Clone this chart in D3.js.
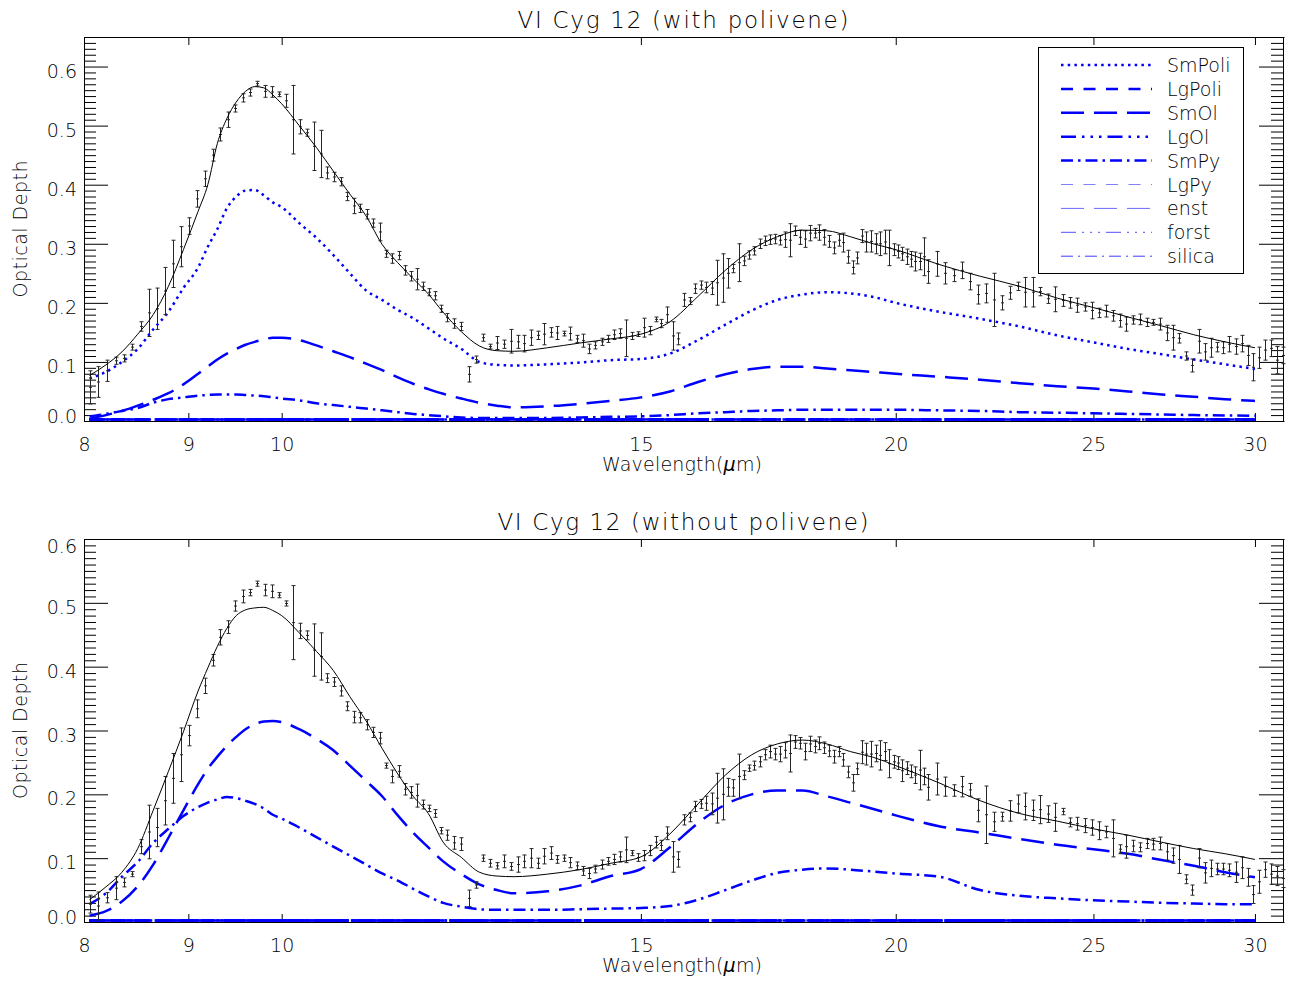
<!DOCTYPE html>
<html><head><meta charset="utf-8">
<script src="https://cdn.jsdelivr.net/npm/d3@7"></script>
<style>
body{margin:0;background:#fff}
svg{display:block;background:#fff}
text{font-family:"DejaVu Sans","Liberation Sans",sans-serif;font-weight:200;fill:#000}
</style>
</head><body>
<svg id="c" width="1292" height="983"></svg>
<script>
// ---------------- DATA ----------------
const wl = [8.05,8.13,8.21,8.29,8.37,8.45,8.53,8.61,8.69,8.77,
8.85,8.93,9.01,9.09,9.17,9.25,9.33,9.41,9.49,9.57,
9.65,9.73,9.81,9.89,9.97,10.05,10.13,10.21,10.29,10.37,
10.45,10.53,10.61,10.69,10.77,10.85,10.93,11.01,11.09,11.17,
11.25,11.33,11.41,11.49,11.57,11.65,11.73,11.81,11.89,11.97,
12.05,
12.15,12.25,12.35,12.45,12.55,12.65,12.75,12.85,12.95,13.05,
13.15,13.25,13.35,13.45,13.55,13.65,13.75,13.85,13.95,14.05,
14.15,14.25,14.35,14.45,14.55,14.65,14.75,14.85,14.95,15.05,
15.15,15.25,15.35,15.45,15.55,15.65,15.75,15.85,15.95,16.05,
16.15,16.25,16.35,16.45,16.55,16.65,16.75,16.85,16.95,17.05,
17.15,17.25,17.35,17.45,17.55,17.65,17.75,17.85,17.95,18.05,
18.15,18.25,18.35,18.45,18.55,18.65,18.75,18.85,18.95,19.05,
19.15,19.25,19.35,19.45,19.55,19.65,19.75,19.85,19.95,20.05,
20.15,20.25,20.35,20.45,20.55,20.65,20.75,
20.95,21.15,21.35,21.55,21.75,21.95,22.15,22.35,22.55,22.75,
22.95,23.15,23.35,23.55,23.75,23.95,24.15,24.35,24.55,24.75,
24.95,25.15,25.35,25.55,25.75,25.95,26.15,26.35,26.55,26.75,
26.95,27.15,27.35,27.55,27.75,27.95,28.15,28.35,28.55,28.75,
28.95,29.15,29.35,29.55,29.75,29.95,30.15,30.35,30.55,30.75,
30.95];

// observed optical depth, panel 1 (with polivene)
const topVal = [0.057,0.066,0.085,0.102,0.106,0.125,0.16,0.183,0.19,0.22,
0.266,0.295,0.33,0.376,0.41,0.45,0.485,0.51,0.529,0.547,
0.556,0.571,0.558,0.557,0.553,0.542,0.51,0.498,0.488,0.465,
0.452,0.42,0.413,0.405,0.38,0.364,0.36,0.35,0.335,0.32,
0.283,0.275,0.28,0.255,0.245,0.24,0.228,0.218,0.212,0.19,
0.175,
0.165,0.16,0.079,0.104,0.141,0.126,0.132,0.13,0.135,0.134,
0.131,0.141,0.145,0.147,0.15,0.149,0.148,0.148,0.139,0.136,
0.122,0.128,0.134,0.139,0.146,0.148,0.14,0.144,0.147,0.158,
0.153,0.172,0.165,0.18,0.144,0.139,0.205,0.203,0.224,0.23,
0.226,0.225,0.234,0.242,0.25,0.258,0.268,0.271,0.281,0.288,
0.3,0.305,0.307,0.308,0.306,0.307,0.306,0.322,0.311,0.308,
0.318,0.318,0.319,0.311,0.304,0.293,0.306,0.302,0.278,0.26,
0.276,0.313,0.303,0.304,0.3,0.3,0.303,0.293,0.29,0.287,
0.283,0.278,0.274,0.27,0.27,0.278,0.253,
0.266,0.25,0.246,0.255,0.236,0.214,0.216,0.205,0.2,0.217,
0.228,0.218,0.218,0.219,0.207,0.206,0.204,0.2,0.196,0.193,
0.187,0.183,0.186,0.178,0.17,0.164,0.171,0.172,0.167,0.167,
0.164,0.149,0.141,0.14,0.11,0.094,0.135,0.117,0.124,0.125,
0.124,0.13,0.126,0.131,0.111,0.091,0.107,0.12,0.123,0.103,
0.111];
const topErr = [0.028,0.026,0.018,0.006,0.006,0.005,0.008,0.04,0.035,0.04,
0.04,0.034,0.014,0.014,0.013,0.01,0.011,0.013,0.006,0.007,
0.006,0.004,0.01,0.009,0.004,0.011,0.058,0.012,0.006,0.041,
0.04,0.01,0.008,0.007,0.007,0.013,0.007,0.008,0.007,0.015,
0.006,0.008,0.007,0.008,0.008,0.018,0.007,0.006,0.007,0.006,
0.007,
0.008,0.007,0.013,0.006,0.006,0.004,0.011,0.007,0.02,0.011,
0.014,0.013,0.007,0.018,0.008,0.011,0.004,0.011,0.006,0.011,
0.008,0.006,0.006,0.006,0.008,0.008,0.031,0.006,0.004,0.016,
0.007,0.004,0.007,0.013,0.024,0.01,0.011,0.006,0.008,0.007,
0.009,0.011,0.038,0.041,0.025,0.007,0.032,0.008,0.007,0.007,
0.008,0.008,0.008,0.008,0.008,0.013,0.028,0.008,0.012,0.014,
0.013,0.008,0.013,0.013,0.01,0.01,0.01,0.016,0.011,0.011,
0.01,0.011,0.017,0.018,0.017,0.02,0.02,0.03,0.01,0.011,
0.011,0.013,0.013,0.016,0.014,0.032,0.02,
0.021,0.018,0.01,0.014,0.014,0.016,0.016,0.045,0.012,0.011,
0.007,0.025,0.025,0.007,0.008,0.021,0.01,0.009,0.012,0.007,
0.014,0.008,0.01,0.009,0.011,0.012,0.007,0.009,0.007,0.005,
0.01,0.013,0.021,0.008,0.007,0.011,0.02,0.014,0.016,0.008,
0.01,0.013,0.013,0.014,0.017,0.023,0.018,0.017,0.014,0.023,
0.014];

// observed optical depth, panel 2 (without polivene)
const botVal = [0.028,0.025,0.038,0.053,0.062,0.075,0.118,0.141,0.148,0.19,
0.225,0.262,0.292,0.334,0.37,0.41,0.446,0.462,0.495,0.51,
0.516,0.53,0.52,0.518,0.512,0.499,0.469,0.456,0.449,0.426,
0.416,0.382,0.376,0.362,0.338,0.321,0.32,0.309,0.297,0.288,
0.245,0.228,0.236,0.208,0.203,0.198,0.184,0.178,0.17,0.143,
0.136,
0.124,0.122,0.037,0.058,0.1,0.092,0.088,0.095,0.087,0.09,
0.095,0.1,0.092,0.103,0.108,0.098,0.1,0.093,0.088,0.08,
0.076,0.083,0.09,0.095,0.098,0.102,0.113,0.108,0.101,0.104,
0.112,0.125,0.12,0.139,0.102,0.098,0.16,0.164,0.181,0.185,
0.186,0.185,0.194,0.2,0.211,0.21,0.228,0.23,0.241,0.245,
0.251,0.262,0.267,0.263,0.263,0.269,0.264,0.282,0.28,0.267,
0.279,0.275,0.28,0.273,0.268,0.259,0.267,0.254,0.235,0.218,
0.24,0.266,0.263,0.263,0.264,0.261,0.267,0.248,0.251,0.249,
0.237,0.241,0.236,0.23,0.238,0.228,0.211,
0.224,0.212,0.206,0.212,0.207,0.175,0.168,0.157,0.165,0.174,
0.185,0.181,0.175,0.176,0.169,0.164,0.173,0.156,0.154,0.151,
0.148,0.143,0.141,0.131,0.114,0.118,0.119,0.117,0.123,0.122,
0.123,0.11,0.104,0.098,0.067,0.05,0.1,0.077,0.084,0.083,
0.083,0.081,0.078,0.085,0.07,0.043,0.063,0.082,0.075,0.072,
0.068];
const botErr = [0.014,0.022,0.008,0.018,0.007,0.004,0.011,0.042,0.03,0.038,
0.039,0.042,0.016,0.014,0.012,0.009,0.012,0.01,0.008,0.01,
0.005,0.004,0.009,0.01,0.004,0.004,0.058,0.012,0.007,0.041,
0.037,0.007,0.007,0.008,0.007,0.009,0.008,0.008,0.008,0.009,
0.004,0.01,0.009,0.009,0.009,0.018,0.007,0.005,0.006,0.005,
0.008,
0.01,0.01,0.013,0.005,0.005,0.006,0.005,0.01,0.006,0.012,
0.01,0.015,0.008,0.012,0.01,0.006,0.005,0.008,0.006,0.007,
0.008,0.006,0.007,0.006,0.008,0.008,0.02,0.004,0.006,0.008,
0.008,0.009,0.008,0.01,0.024,0.012,0.008,0.007,0.008,0.007,
0.011,0.017,0.039,0.04,0.014,0.013,0.035,0.007,0.005,0.007,
0.008,0.008,0.01,0.009,0.012,0.012,0.029,0.01,0.009,0.013,
0.012,0.01,0.01,0.009,0.009,0.01,0.008,0.01,0.009,0.013,
0.009,0.018,0.017,0.02,0.013,0.023,0.014,0.022,0.01,0.01,
0.017,0.01,0.01,0.013,0.031,0.013,0.02,
0.025,0.015,0.009,0.016,0.01,0.018,0.045,0.015,0.007,0.016,
0.014,0.021,0.016,0.022,0.013,0.022,0.005,0.007,0.01,0.011,
0.012,0.014,0.009,0.029,0.007,0.018,0.009,0.007,0.008,0.009,
0.01,0.013,0.012,0.022,0.007,0.008,0.015,0.016,0.013,0.009,
0.009,0.01,0.016,0.017,0.014,0.014,0.018,0.012,0.016,0.015,
0.014];

// model wavelength grid
const modelWl = [8.05,8.2,8.35,8.5,8.65,8.8,8.95,9.1,9.2,9.3,
9.4,9.5,9.6,9.7,9.8,9.9,10.0,10.2,10.4,10.6,
10.8,11.0,11.2,11.4,11.6,11.8,12.0,12.25,12.5,12.75,
13.0,13.5,14.0,14.5,15.0,15.5,16.0,16.5,17.0,17.5,
18.0,18.5,19.0,19.5,20.0,21.0,22.0,23.0,24.0,25.0,
26.0,27.0,28.0,29.0,30.0];

const topTotal = [0.077,0.095,0.117,0.147,0.18,0.228,0.29,0.355,0.4,0.47,
0.512,0.54,0.558,0.566,0.564,0.552,0.537,0.5,0.463,0.423,
0.384,0.347,0.299,0.268,0.241,0.215,0.184,0.151,0.127,0.119,
0.118,0.124,0.132,0.139,0.147,0.168,0.211,0.255,0.29,0.312,
0.323,0.322,0.312,0.3,0.29,0.265,0.245,0.228,0.208,0.192,
0.176,0.161,0.146,0.134,0.124];
const topSmPoli = [0.072,0.083,0.1,0.122,0.155,0.185,0.225,0.26,0.295,0.325,
0.36,0.38,0.39,0.391,0.382,0.37,0.362,0.335,0.31,0.281,
0.25,0.221,0.205,0.188,0.174,0.157,0.14,0.122,0.1,0.095,
0.094,0.096,0.099,0.103,0.105,0.114,0.137,0.163,0.187,0.205,
0.214,0.218,0.216,0.21,0.2,0.185,0.173,0.16,0.145,0.133,
0.122,0.113,0.104,0.096,0.088];
const topSmOl = [0.004,0.01,0.017,0.026,0.036,0.047,0.062,0.08,0.092,0.104,
0.114,0.122,0.129,0.134,0.138,0.141,0.141,0.137,0.128,0.118,
0.108,0.097,0.086,0.074,0.063,0.054,0.046,0.038,0.031,0.026,
0.023,0.025,0.029,0.034,0.04,0.05,0.066,0.079,0.088,0.092,
0.092,0.089,0.086,0.083,0.08,0.075,0.07,0.064,0.059,0.055,
0.05,0.045,0.041,0.037,0.034];
const topSmPy = [0.008,0.012,0.017,0.022,0.031,0.037,0.04,0.043,0.044,0.045,
0.045,0.045,0.044,0.043,0.042,0.04,0.038,0.035,0.03,0.027,
0.024,0.021,0.018,0.015,0.012,0.01,0.008,0.006,0.005,0.005,
0.005,0.005,0.006,0.007,0.008,0.01,0.013,0.015,0.017,0.018,
0.019,0.019,0.019,0.019,0.019,0.018,0.017,0.015,0.014,0.013,
0.012,0.011,0.01,0.0095,0.009];

const botTotal = [0.035,0.055,0.078,0.115,0.175,0.236,0.298,0.362,0.398,0.432,
0.46,0.48,0.489,0.492,0.493,0.488,0.48,0.453,0.424,0.394,
0.353,0.315,0.272,0.232,0.197,0.17,0.125,0.101,0.078,0.072,
0.071,0.075,0.082,0.092,0.102,0.138,0.185,0.23,0.262,0.279,
0.285,0.279,0.267,0.258,0.245,0.218,0.19,0.17,0.158,0.146,
0.136,0.125,0.115,0.107,0.098];
const botSmOl = [0.01,0.017,0.032,0.056,0.09,0.132,0.175,0.216,0.24,0.259,
0.276,0.29,0.302,0.31,0.314,0.315,0.313,0.302,0.287,0.269,
0.245,0.221,0.197,0.167,0.14,0.117,0.095,0.075,0.059,0.05,
0.045,0.048,0.057,0.072,0.083,0.117,0.155,0.184,0.2,0.206,
0.206,0.197,0.187,0.177,0.167,0.15,0.14,0.13,0.121,0.114,
0.107,0.097,0.088,0.078,0.07];
const botSmPy = [0.028,0.045,0.071,0.094,0.124,0.146,0.166,0.18,0.187,0.192,
0.196,0.194,0.19,0.185,0.178,0.168,0.162,0.148,0.133,0.118,
0.104,0.09,0.076,0.065,0.052,0.04,0.03,0.024,0.02,0.019,
0.019,0.019,0.02,0.021,0.022,0.025,0.035,0.05,0.065,0.077,
0.082,0.084,0.082,0.079,0.076,0.071,0.05,0.041,0.037,0.034,
0.032,0.03,0.029,0.028,0.028];
const zeroComp = [0,0,0,0,0,0,0,0,0,0,0,0,0,0,0,0,0,0,0,0,0,0,0,0,0,0,0,0,0,0,
0,0,0,0,0,0,0,0,0,0,0,0,0,0,0,0,0,0,0,0,0,0,0,0,0];

const compNames = ["SmPoli","LgPoli","SmOl","LgOl","SmPy","LgPy","enst","forst","silica"];
const xTicks = [8,9,10,15,20,25,30];
const yTicks = [0,0.1,0.2,0.3,0.4,0.5,0.6];
const titles = ["VI Cyg 12 (with polivene)","VI Cyg 12 (without polivene)"];

// ---------------- STYLE ----------------
const FONT = '"DejaVu Sans","Liberation Sans",sans-serif';
const compStyle = {
  SmPoli:{dash:"2.5,4.2", w:2.5, c:"#0000ff"},
  LgPoli:{dash:"12,10.5", w:2.5, c:"#0000ff"},
  SmOl:{dash:"23,10", w:2.5, c:"#0000ff"},
  LgOl:{dash:"15,6,2.5,6,2.5,6,2.5,6", w:2.5, c:"#0000ff"},
  SmPy:{dash:"12,5,2.5,5", w:2.5, c:"#0000ff"},
  LgPy:{dash:"12,10.5", w:1, c:"#8080ff"},
  enst:{dash:"23,10", w:1, c:"#6a6aff"},
  forst:{dash:"15,6,2,6,2,6,2,6", w:1, c:"#5050ff"},
  silica:{dash:"12,5,2,5", w:1, c:"#3a3aff"}
};

const svg = d3.select("#c");
const x = d3.scaleLog().domain([8, 31]).range([84, 1284]);

const panels = [
  {top:37, bottom:421, ymax:0.65, title:titles[0], titleY:27.5, titleLen:331, val:topVal, err:topErr, total:topTotal,
   comps:{SmPoli:topSmPoli, LgPoli:zeroComp, SmOl:topSmOl, LgOl:zeroComp, SmPy:topSmPy, LgPy:zeroComp, enst:zeroComp, forst:zeroComp, silica:zeroComp},
   legend:true},
  {top:539, bottom:922, ymax:0.6, title:titles[1], titleY:530, titleLen:371, val:botVal, err:botErr, total:botTotal,
   comps:{SmPoli:zeroComp, LgPoli:zeroComp, SmOl:botSmOl, LgOl:zeroComp, SmPy:botSmPy, LgPy:zeroComp, enst:zeroComp, forst:zeroComp, silica:zeroComp},
   legend:false}
];

function styleAxis(g){
  g.attr("font-size", 19).attr("font-family", FONT);
  g.selectAll("path.domain").attr("stroke","#000").attr("stroke-width",1);
  g.selectAll(".tick line").attr("stroke","#000").attr("stroke-width",1);
}

panels.forEach(p => {
  const g = svg.append("g");
  const y = d3.scaleLinear().domain([0, p.ymax]).range([p.bottom, p.top]);
  const nMinor = Math.round(p.ymax * 100);
  const minor = d3.range(0, nMinor + 1).map(k => k / 100).filter(v => Math.round(v * 100) % 10 !== 0);

  // axes (drawn first so that the curves lie on top)
  const left = g.append("g").attr("transform",`translate(84,0)`)
    .call(d3.axisLeft(y).tickValues(yTicks).tickSize(-24).tickSizeOuter(0).tickPadding(7).tickFormat(d3.format(".1f")));
  styleAxis(left);
  left.selectAll("text").attr("dy", d => d === 0 ? "1px" : (Math.abs(d - p.ymax) < 1e-9 ? "13.5px" : "10.5px"));
  const leftMin = g.append("g").attr("transform",`translate(84,0)`)
    .call(d3.axisLeft(y).tickValues(minor).tickSize(-12).tickSizeOuter(0).tickFormat(""));
  styleAxis(leftMin);
  const right = g.append("g").attr("transform",`translate(1283,0)`)
    .call(d3.axisRight(y).tickValues(yTicks).tickSize(-24).tickSizeOuter(0).tickFormat(""));
  styleAxis(right);
  const rightMin = g.append("g").attr("transform",`translate(1283,0)`)
    .call(d3.axisRight(y).tickValues(minor).tickSize(-12).tickSizeOuter(0).tickFormat(""));
  styleAxis(rightMin);
  const bottom = g.append("g").attr("transform",`translate(0,${p.bottom})`)
    .call(d3.axisBottom(x).tickValues(xTicks).tickSize(-8).tickSizeOuter(0).tickFormat(d3.format("d")));
  styleAxis(bottom);
  bottom.selectAll("text").attr("y", 30).attr("dy", 0);
  const topAx = g.append("g").attr("transform",`translate(0,${p.top})`)
    .call(d3.axisTop(x).tickValues(xTicks).tickSize(-8).tickSizeOuter(0).tickFormat(""));
  styleAxis(topAx);

  // model component lines (zero-valued components first)
  const line = d3.line().x((d, i) => x(modelWl[i])).y(d => y(d)).curve(d3.curveMonotoneX);
  const zeroLine = d3.line().x((d, i) => x(modelWl[i])).y(d => y(d) - 1.5);
  const order = compNames.slice().sort((a, b) => (p.comps[a] === zeroComp ? 0 : 1) - (p.comps[b] === zeroComp ? 0 : 1));
  order.forEach(n => {
    const s = compStyle[n];
    const isZero = p.comps[n] === zeroComp;
    g.append("path").attr("d", isZero ? zeroLine(p.comps[n]) : line(p.comps[n]))
      .attr("fill","none").attr("stroke", isZero ? "#0000ff" : s.c).attr("stroke-width", isZero ? 2.6 : s.w)
      .attr("stroke-dasharray", s.dash);
  });

  // data error bars
  const eb = g.append("g").attr("stroke","#262626").attr("stroke-width",1).attr("fill","none");
  wl.forEach((w, i) => {
    const xc = Math.round(x(w)) + 0.5;
    const v = p.val[i], e = p.err[i];
    const y1 = y(v - e), y2 = y(v + e), yc = y(v);
    eb.append("path").attr("d",
      `M${xc},${y1}V${y2}M${xc-2},${y1}H${xc+2}M${xc-2},${y2}H${xc+2}M${xc-1.5},${yc}H${xc+1.5}`);
  });

  // total model
  g.append("path").attr("d", line(p.total)).attr("fill","none").attr("stroke","#000").attr("stroke-width",1);

  // titles and labels
  g.append("text").attr("x", 683).attr("y", p.titleY).attr("text-anchor","middle")
    .attr("font-size", 23).attr("textLength", p.titleLen).attr("lengthAdjust","spacing").text(p.title);
  const xl = g.append("text").attr("x", 682).attr("y", p.bottom + 50).attr("text-anchor","middle")
    .attr("font-size", 19).attr("textLength", 160).attr("lengthAdjust","spacing");
  xl.append("tspan").text("Wavelength(");
  xl.append("tspan").attr("font-style","italic").text("\u03bc");
  xl.append("tspan").text("m)");
  g.append("text").attr("transform", `translate(27,${(p.top + p.bottom) / 2}) rotate(-90)`)
    .attr("text-anchor","middle").attr("font-size", 19).attr("textLength", 137).attr("lengthAdjust","spacing")
    .text("Optical Depth");

  // legend
  if (p.legend) {
    const lg = g.append("g");
    lg.append("rect").attr("x",1038.5).attr("y",47.5).attr("width",205).attr("height",226)
      .attr("fill","#fff").attr("stroke","#000").attr("stroke-width",1);
    compNames.forEach((n, i) => {
      const yy = 65 + i * 23.9;
      const s = compStyle[n];
      lg.append("line").attr("x1",1061).attr("x2",1152).attr("y1",yy).attr("y2",yy)
        .attr("stroke", s.c).attr("stroke-width", s.w).attr("stroke-dasharray", s.dash);
      lg.append("text").attr("x",1167).attr("y",yy + 7).attr("font-size",19).text(n);
    });
  }
});
</script>
</body></html>
